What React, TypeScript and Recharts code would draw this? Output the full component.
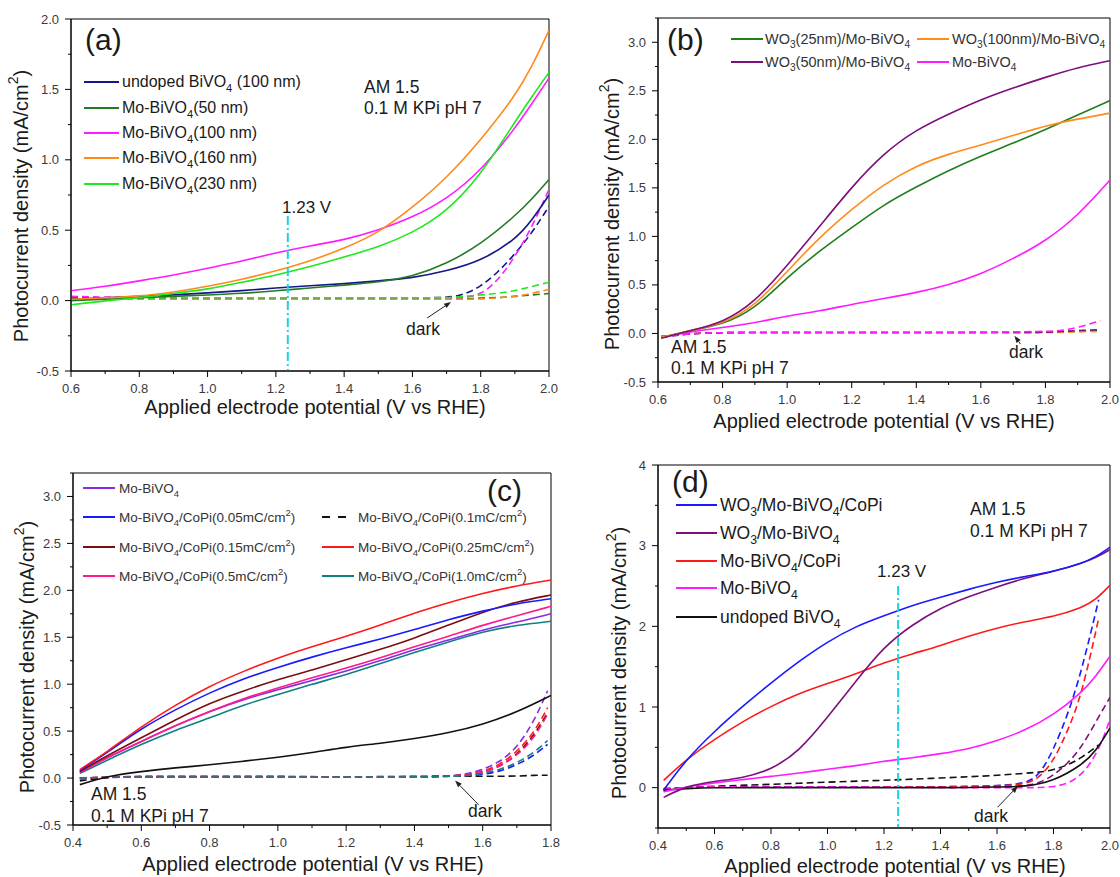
import React from 'react';
import { LineChart, Line, XAxis, YAxis, ReferenceLine, ReferenceArea } from 'recharts';

const FONT = '"Liberation Sans", Arial, Helvetica, sans-serif';
const TXT = '#1a1a1a';
const TICK = '#3a3a3a';
const CYAN = '#19d3e3';

// ---------------- Panel (a) ----------------
const aX = [0.6, 0.7, 0.8, 0.9, 1.0, 1.1, 1.2, 1.3, 1.4, 1.5, 1.6, 1.7, 1.8, 1.9, 1.95, 2.0];
const aUndoped = [0.01, 0.02, 0.03, 0.04, 0.055, 0.07, 0.09, 0.105, 0.12, 0.14, 0.16, 0.21, 0.28, 0.43, 0.57, 0.75];
const aMo50 = [0.0, 0.01, 0.02, 0.03, 0.04, 0.05, 0.07, 0.09, 0.11, 0.13, 0.17, 0.26, 0.4, 0.6, 0.72, 0.86];
const aMo100 = [0.07, 0.1, 0.14, 0.18, 0.23, 0.28, 0.34, 0.39, 0.43, 0.5, 0.59, 0.72, 0.92, 1.22, 1.4, 1.58];
const aMo160 = [0.01, 0.02, 0.03, 0.06, 0.1, 0.15, 0.21, 0.28, 0.37, 0.48, 0.66, 0.87, 1.14, 1.45, 1.66, 1.92];
const aMo230 = [-0.03, 0.0, 0.02, 0.05, 0.08, 0.13, 0.18, 0.24, 0.31, 0.38, 0.48, 0.63, 0.89, 1.27, 1.45, 1.62];
const aDarkX = [0.6, 0.8, 1.0, 1.2, 1.4, 1.6, 1.7, 1.75, 1.8, 1.85, 1.9, 1.95, 2.0];
const aUndopedDark = [0.02, 0.02, 0.02, 0.02, 0.02, 0.02, 0.02, 0.04, 0.1, 0.2, 0.33, 0.48, 0.67];
const aMo50Dark = [0.02, 0.01, 0.01, 0.01, 0.01, 0.01, 0.01, 0.01, 0.02, 0.02, 0.03, 0.04, 0.05];
const aMo100Dark = [0.03, 0.02, 0.02, 0.02, 0.02, 0.02, 0.02, 0.02, 0.04, 0.14, 0.31, 0.52, 0.79];
const aMo160Dark = [0.01, 0.01, 0.01, 0.01, 0.01, 0.01, 0.01, 0.01, 0.01, 0.02, 0.03, 0.05, 0.08];
const aMo230Dark = [0.01, 0.02, 0.02, 0.02, 0.02, 0.02, 0.02, 0.03, 0.04, 0.05, 0.07, 0.1, 0.13];
const aXTicks = [0.6, 0.7, 0.8, 0.9, 1.0, 1.1, 1.2, 1.3, 1.4, 1.5, 1.6, 1.7, 1.8, 1.9, 2.0];
const aYTicks = [-0.5, -0.25, 0, 0.25, 0.5, 0.75, 1.0, 1.25, 1.5, 1.75, 2.0];
const aNames = ['undoped BiVO_4 (100 nm)', 'Mo-BiVO_4(50 nm)', 'Mo-BiVO_4(100 nm)', 'Mo-BiVO_4(160 nm)', 'Mo-BiVO_4(230 nm)'];
const aColors = ['#16168c', '#247a24', '#ff1aff', '#ff8a1a', '#1ee81e'];

// ---------------- Panel (b) ----------------
const bX = [0.61, 0.7, 0.8, 0.9, 1.0, 1.1, 1.2, 1.3, 1.4, 1.5, 1.6, 1.7, 1.8, 1.9, 2.0];
const bW25 = [-0.04, 0.03, 0.09, 0.25, 0.58, 0.85, 1.09, 1.33, 1.51, 1.68, 1.83, 1.96, 2.1, 2.25, 2.4];
const bW100 = [-0.04, 0.03, 0.1, 0.28, 0.64, 0.99, 1.28, 1.54, 1.73, 1.85, 1.94, 2.04, 2.14, 2.21, 2.27];
const bW50 = [-0.05, 0.03, 0.11, 0.32, 0.7, 1.1, 1.51, 1.86, 2.1, 2.26, 2.41, 2.53, 2.64, 2.74, 2.81];
const bMo = [-0.04, 0.02, 0.06, 0.11, 0.18, 0.23, 0.3, 0.36, 0.42, 0.5, 0.61, 0.77, 0.95, 1.21, 1.58];
const bDarkX = [0.61, 0.7, 0.8, 1.0, 1.2, 1.4, 1.6, 1.8, 1.85, 1.9, 1.97];
const bW25Dark = [-0.03, 0.0, 0.01, 0.01, 0.01, 0.01, 0.01, 0.01, 0.02, 0.02, 0.03];
const bW100Dark = [-0.03, 0.0, 0.01, 0.01, 0.01, 0.01, 0.01, 0.01, 0.01, 0.02, 0.02];
const bW50Dark = [-0.04, 0.0, 0.01, 0.01, 0.01, 0.01, 0.01, 0.01, 0.02, 0.03, 0.04];
const bMoDark = [-0.03, 0.0, 0.01, 0.01, 0.01, 0.01, 0.01, 0.02, 0.03, 0.06, 0.13];
const bXTicks = [0.6, 0.7, 0.8, 0.9, 1.0, 1.1, 1.2, 1.3, 1.4, 1.5, 1.6, 1.7, 1.8, 1.9, 2.0];
const bYTicks = [-0.5, -0.25, 0, 0.25, 0.5, 0.75, 1.0, 1.25, 1.5, 1.75, 2.0, 2.25, 2.5, 2.75, 3.0, 3.25];
const bNames = ['WO_3(25nm)/Mo-BiVO_4', 'WO_3(100nm)/Mo-BiVO_4', 'WO_3(50nm)/Mo-BiVO_4', 'Mo-BiVO_4'];
const bColors = ['#1f7f1f', '#ff8c1a', '#7d0f7d', '#ff1aff'];

// ---------------- Panel (c) ----------------
const cX = [0.42, 0.5, 0.6, 0.7, 0.8, 0.9, 1.0, 1.1, 1.2, 1.3, 1.4, 1.5, 1.6, 1.7, 1.8];
const cMo = [0.06, 0.22, 0.39, 0.56, 0.71, 0.84, 0.94, 1.04, 1.14, 1.25, 1.37, 1.47, 1.58, 1.66, 1.75];
const c005 = [0.08, 0.27, 0.53, 0.73, 0.91, 1.06, 1.18, 1.29, 1.39, 1.48, 1.58, 1.69, 1.78, 1.86, 1.91];
const c01 = [-0.07, 0.02, 0.07, 0.11, 0.14, 0.18, 0.22, 0.27, 0.33, 0.37, 0.42, 0.48, 0.57, 0.7, 0.88];
const c015 = [0.07, 0.24, 0.43, 0.62, 0.8, 0.93, 1.05, 1.15, 1.26, 1.37, 1.49, 1.63, 1.77, 1.88, 1.95];
const c025 = [0.09, 0.28, 0.55, 0.78, 0.98, 1.14, 1.28, 1.4, 1.51, 1.63, 1.76, 1.87, 1.97, 2.05, 2.11];
const c05 = [0.06, 0.22, 0.39, 0.56, 0.71, 0.85, 0.96, 1.07, 1.17, 1.28, 1.4, 1.51, 1.63, 1.73, 1.83];
const c10 = [0.05, 0.19, 0.36, 0.51, 0.64, 0.78, 0.89, 1.0, 1.1, 1.22, 1.34, 1.45, 1.56, 1.63, 1.67];
const cDarkX = [0.42, 0.5, 0.6, 0.8, 1.0, 1.2, 1.4, 1.5, 1.55, 1.6, 1.65, 1.7, 1.75, 1.79];
const cMoDark = [0.0, 0.01, 0.01, 0.01, 0.01, 0.01, 0.01, 0.02, 0.04, 0.09, 0.17, 0.32, 0.6, 0.93];
const c005Dark = [-0.01, 0.01, 0.01, 0.01, 0.01, 0.01, 0.01, 0.02, 0.02, 0.04, 0.07, 0.14, 0.24, 0.36];
const c01Dark = [-0.03, 0.01, 0.02, 0.02, 0.02, 0.01, 0.02, 0.02, 0.02, 0.02, 0.02, 0.02, 0.03, 0.03];
const c015Dark = [0.0, 0.01, 0.01, 0.01, 0.01, 0.01, 0.01, 0.02, 0.03, 0.06, 0.12, 0.25, 0.45, 0.7];
const c025Dark = [0.0, 0.01, 0.01, 0.01, 0.01, 0.01, 0.01, 0.02, 0.03, 0.07, 0.14, 0.28, 0.48, 0.75];
const c05Dark = [0.0, 0.01, 0.01, 0.01, 0.01, 0.01, 0.01, 0.02, 0.03, 0.06, 0.12, 0.24, 0.42, 0.68];
const c10Dark = [0.0, 0.01, 0.01, 0.01, 0.01, 0.01, 0.01, 0.02, 0.02, 0.05, 0.09, 0.16, 0.27, 0.4];
const cXTicks = [0.4, 0.5, 0.6, 0.7, 0.8, 0.9, 1.0, 1.1, 1.2, 1.3, 1.4, 1.5, 1.6, 1.7, 1.8];
const cYTicks = bYTicks;
const cNames = ['Mo-BiVO_4', 'Mo-BiVO_4/CoPi(0.05mC/cm^2)', 'Mo-BiVO_4/CoPi(0.1mC/cm^2)', 'Mo-BiVO_4/CoPi(0.15mC/cm^2)', 'Mo-BiVO_4/CoPi(0.25mC/cm^2)', 'Mo-BiVO_4/CoPi(0.5mC/cm^2)', 'Mo-BiVO_4/CoPi(1.0mC/cm^2)'];
const cColors = ['#8a2be2', '#1a1aff', '#111111', '#7b0d0d', '#ff1a1a', '#ff1a8c', '#0f8080'];

// ---------------- Panel (d) ----------------
const dX = [0.42, 0.5, 0.6, 0.7, 0.8, 0.9, 1.0, 1.1, 1.2, 1.3, 1.4, 1.5, 1.6, 1.7, 1.8, 1.9, 1.95, 2.0];
const dWMoCoPi = [-0.03, 0.35, 0.7, 1.01, 1.3, 1.57, 1.81, 2.0, 2.13, 2.26, 2.36, 2.46, 2.55, 2.62, 2.68, 2.78, 2.86, 2.98];
const dWMo = [-0.12, 0.02, 0.08, 0.12, 0.22, 0.45, 0.87, 1.32, 1.75, 2.02, 2.23, 2.37, 2.49, 2.6, 2.68, 2.78, 2.85, 2.95];
const dMoCoPi = [0.09, 0.35, 0.6, 0.82, 1.01, 1.17, 1.29, 1.41, 1.55, 1.66, 1.76, 1.88, 1.98, 2.06, 2.12, 2.23, 2.33, 2.51];
const dMo = [-0.05, 0.01, 0.06, 0.1, 0.14, 0.18, 0.23, 0.27, 0.33, 0.37, 0.42, 0.48, 0.58, 0.71, 0.9, 1.18, 1.38, 1.63];
const dUndoped = [-0.03, -0.01, 0.0, 0.0, 0.0, 0.0, 0.0, 0.0, 0.0, 0.0, 0.0, 0.0, 0.01, 0.01, 0.08, 0.28, 0.45, 0.74];
const dDarkX = [0.42, 0.5, 0.6, 0.8, 1.0, 1.2, 1.4, 1.6, 1.7, 1.75, 1.8, 1.85, 1.9, 1.96, 2.0];
const dWMoCoPiDark = [-0.03, 0.0, 0.01, 0.01, 0.01, 0.01, 0.01, 0.02, 0.05, 0.15, 0.47, 0.9, 1.45, 2.33, null];
const dWMoDark = [-0.04, 0.0, 0.01, 0.01, 0.01, 0.01, 0.01, 0.01, 0.02, 0.06, 0.15, 0.3, 0.5, 0.88, 1.12];
const dMoCoPiDark = [-0.02, 0.0, 0.01, 0.01, 0.01, 0.01, 0.01, 0.02, 0.04, 0.12, 0.33, 0.7, 1.15, 2.1, null];
const dMoDark = [-0.02, 0.0, 0.01, 0.01, 0.01, 0.01, 0.0, 0.0, 0.0, 0.0, 0.01, 0.05, 0.15, 0.45, 0.85];
const dUndopedDark = [-0.01, 0.0, 0.02, 0.04, 0.07, 0.09, 0.12, 0.15, 0.18, 0.19, 0.22, 0.28, 0.37, 0.53, null];
const dXTicks = [0.4, 0.5, 0.6, 0.7, 0.8, 0.9, 1.0, 1.1, 1.2, 1.3, 1.4, 1.5, 1.6, 1.7, 1.8, 1.9, 2.0];
const dYTicks = [-0.5, 0, 0.5, 1, 1.5, 2, 2.5, 3, 3.5, 4];
const dNames = ['WO_3/Mo-BiVO_4/CoPi', 'WO_3/Mo-BiVO_4', 'Mo-BiVO_4/CoPi', 'Mo-BiVO_4', 'undoped BiVO_4'];
const dColors = ['#1a1aff', '#7d0f7d', '#ff1a1a', '#ff1aff', '#111111'];

// ---------------- helpers ----------------
const mk = (xs: number[], ys: (number | null)[]) => xs.map((x, i) => ({ x, y: ys[i] }));

function richSpans(text: string, fs: number) {
  const out: any[] = [];
  const re = /([_^])(.)/g;
  let last = 0;
  let shift = 0;
  let k = 0;
  let m: any;
  while ((m = re.exec(text))) {
    if (m.index > last) {
      out.push(<tspan key={k++} dy={shift ? -shift : undefined}>{text.slice(last, m.index)}</tspan>);
      shift = 0;
    }
    const d = m[1] === '_' ? fs * 0.3 : -fs * 0.42;
    out.push(<tspan key={k++} fontSize={fs * 0.7} dy={d - shift}>{m[2]}</tspan>);
    shift = d;
    last = m.index + 2;
  }
  if (last < text.length) out.push(<tspan key={k++} dy={shift ? -shift : undefined}>{text.slice(last)}</tspan>);
  return out;
}

const majorX = (v: number) => Math.round(v * 10) % 2 === 0;
const majorHalf = (v: number) => Math.round(v * 4) % 2 === 0;
const majorInt = (v: number) => Math.round(v * 2) % 2 === 0;
const fmt1 = (v: number) => v.toFixed(1);
const fmt0 = (v: number) => String(Math.round(v));

const makeXTick = (isMajor: (v: number) => boolean, fmt: (v: number) => string) => (p: any) => {
  const v = p.payload.value;
  const mj = isMajor(v);
  return (
    <g>
      <line x1={p.x} x2={p.x} y1={p.y} y2={p.y + (mj ? 6 : 3)} stroke="#000" strokeWidth={1} />
      {mj && (
        <text x={p.x} y={p.y + 22} textAnchor="middle" fontSize={13} fill={TICK} fontFamily={FONT}>{fmt(v)}</text>
      )}
    </g>
  );
};

const makeYTick = (isMajor: (v: number) => boolean, fmt: (v: number) => string) => (p: any) => {
  const v = p.payload.value;
  const mj = isMajor(v);
  return (
    <g>
      <line x1={p.x} x2={p.x - (mj ? 6 : 3)} y1={p.y} y2={p.y} stroke="#000" strokeWidth={1} />
      {mj && (
        <text x={p.x - 12} y={p.y} dy="0.35em" textAnchor="end" fontSize={13} fill={TICK} fontFamily={FONT}>{fmt(v)}</text>
      )}
    </g>
  );
};

const arrowShape = (p: any) => {
  const { x1, y1, x2, y2 } = p;
  if (![x1, y1, x2, y2].every((n) => typeof n === 'number' && isFinite(n))) return <g />;
  const ang = Math.atan2(y2 - y1, x2 - x1);
  const L = 7;
  const W = 2.6;
  const bx = x2 - L * Math.cos(ang);
  const by = y2 - L * Math.sin(ang);
  const pts = `${x2},${y2} ${bx + W * Math.sin(ang)},${by - W * Math.cos(ang)} ${bx - W * Math.sin(ang)},${by + W * Math.cos(ang)}`;
  return (
    <g>
      <line x1={x1} y1={y1} x2={bx} y2={by} stroke="#222" strokeWidth={1} />
      <polygon points={pts} fill="#222" />
    </g>
  );
};

type Series = { key: string; xs: number[]; ys: (number | null)[]; color: string; dashed?: boolean };

function Panel(props: any) {
  const {
    left, top, width, height, margin, yAxisWidth, xAxisHeight, xDomain, yDomain, xTicks, yTicks,
    yMajor, yFmt, series, cyan, arrow, yTitle, xTitle,
  } = props;
  const yTitleContent = () => (
    <text x={yTitle[0]} y={yTitle[1]} transform={`rotate(-90 ${yTitle[0]} ${yTitle[1]})`} textAnchor="middle"
      dominantBaseline="central" fontSize={20} fill={TXT} fontFamily={FONT}>
      {richSpans('Photocurrent density (mA/cm^2)', 20)}
    </text>
  );
  const xTitleContent = () => (
    <text x={xTitle[0]} y={xTitle[1]} textAnchor="middle" fontSize={20} fill={TXT} fontFamily={FONT}>
      Applied electrode potential (V vs RHE)
    </text>
  );
  return (
    <div style={{ position: 'absolute', left, top, width, height }}>
      <LineChart width={width} height={height} margin={margin}>
        <XAxis type="number" dataKey="x" domain={xDomain} ticks={xTicks} interval={0} allowDataOverflow
          height={xAxisHeight} tickSize={0} tickMargin={0} tickLine={false} axisLine={{ stroke: '#000' }}
          tick={makeXTick(majorX, fmt1)} label={{ content: xTitleContent }} />
        <YAxis type="number" domain={yDomain} ticks={yTicks} interval={0} allowDataOverflow width={yAxisWidth}
          tickSize={0} tickMargin={0} tickLine={false} axisLine={{ stroke: '#000' }}
          tick={makeYTick(yMajor, yFmt)} label={{ content: yTitleContent }} />
        <ReferenceArea x1={xDomain[0]} x2={xDomain[1]} y1={yDomain[0]} y2={yDomain[1]} fill="none" fillOpacity={0}
          stroke="#000" strokeWidth={1} ifOverflow="visible" />
        {series.map((s: Series) => (
          <Line key={s.key} name={s.key} data={mk(s.xs, s.ys)} dataKey="y" type="basis" stroke={s.color}
            strokeWidth={1.6} dot={false} activeDot={false} isAnimationActive={false}
            strokeDasharray={s.dashed ? '7 4' : undefined} />
        ))}
        {cyan && (
          <ReferenceLine segment={[{ x: cyan[0], y: cyan[1] }, { x: cyan[0], y: cyan[2] }]} stroke={CYAN}
            strokeWidth={2} strokeDasharray="9 3 2 3" ifOverflow="visible" />
        )}
        {arrow && (
          <ReferenceLine segment={[{ x: arrow[0], y: arrow[1] }, { x: arrow[2], y: arrow[3] }]} stroke="#222"
            ifOverflow="visible" shape={arrowShape} />
        )}
      </LineChart>
    </div>
  );
}

const T = (p: any) => (
  <text x={p.x} y={p.y} fontSize={p.fs} fill={p.fill || TXT} fontFamily={FONT} letterSpacing={p.ls}>
    {richSpans(p.t, p.fs)}
  </text>
);

const LegendRow = (p: any) => (
  <g>
    <line x1={p.x1} x2={p.x2} y1={p.y} y2={p.y} stroke={p.color} strokeWidth={2}
      strokeDasharray={p.dashed ? '8 8' : undefined} />
    <T x={p.tx} y={p.y + p.base} fs={p.fs} t={p.t} fill={p.fill} ls={p.ls} />
  </g>
);

export default function App() {
  const aSeries: Series[] = [
    { key: 'a-ud-d', xs: aDarkX, ys: aUndopedDark, color: aColors[0], dashed: true },
    { key: 'a-50-d', xs: aDarkX, ys: aMo50Dark, color: aColors[1], dashed: true },
    { key: 'a-100-d', xs: aDarkX, ys: aMo100Dark, color: aColors[2], dashed: true },
    { key: 'a-160-d', xs: aDarkX, ys: aMo160Dark, color: aColors[3], dashed: true },
    { key: 'a-230-d', xs: aDarkX, ys: aMo230Dark, color: aColors[4], dashed: true },
    { key: 'a-ud', xs: aX, ys: aUndoped, color: aColors[0] },
    { key: 'a-50', xs: aX, ys: aMo50, color: aColors[1] },
    { key: 'a-100', xs: aX, ys: aMo100, color: aColors[2] },
    { key: 'a-160', xs: aX, ys: aMo160, color: aColors[3] },
    { key: 'a-230', xs: aX, ys: aMo230, color: aColors[4] },
  ];
  const bSeries: Series[] = [
    { key: 'b-25-d', xs: bDarkX, ys: bW25Dark, color: bColors[0], dashed: true },
    { key: 'b-100-d', xs: bDarkX, ys: bW100Dark, color: bColors[1], dashed: true },
    { key: 'b-50-d', xs: bDarkX, ys: bW50Dark, color: bColors[2], dashed: true },
    { key: 'b-mo-d', xs: bDarkX, ys: bMoDark, color: bColors[3], dashed: true },
    { key: 'b-mo', xs: bX, ys: bMo, color: bColors[3] },
    { key: 'b-25', xs: bX, ys: bW25, color: bColors[0] },
    { key: 'b-100', xs: bX, ys: bW100, color: bColors[1] },
    { key: 'b-50', xs: bX, ys: bW50, color: bColors[2] },
  ];
  const cSeries: Series[] = [
    { key: 'c-mo-d', xs: cDarkX, ys: cMoDark, color: cColors[0], dashed: true },
    { key: 'c-005-d', xs: cDarkX, ys: c005Dark, color: cColors[1], dashed: true },
    { key: 'c-01-d', xs: cDarkX, ys: c01Dark, color: cColors[2], dashed: true },
    { key: 'c-015-d', xs: cDarkX, ys: c015Dark, color: cColors[3], dashed: true },
    { key: 'c-025-d', xs: cDarkX, ys: c025Dark, color: cColors[4], dashed: true },
    { key: 'c-05-d', xs: cDarkX, ys: c05Dark, color: cColors[5], dashed: true },
    { key: 'c-10-d', xs: cDarkX, ys: c10Dark, color: cColors[6], dashed: true },
    { key: 'c-01', xs: cX, ys: c01, color: cColors[2] },
    { key: 'c-10', xs: cX, ys: c10, color: cColors[6] },
    { key: 'c-mo', xs: cX, ys: cMo, color: cColors[0] },
    { key: 'c-05', xs: cX, ys: c05, color: cColors[5] },
    { key: 'c-015', xs: cX, ys: c015, color: cColors[3] },
    { key: 'c-005', xs: cX, ys: c005, color: cColors[1] },
    { key: 'c-025', xs: cX, ys: c025, color: cColors[4] },
  ];
  const dSeries: Series[] = [
    { key: 'd-ud-d', xs: dDarkX, ys: dUndopedDark, color: dColors[4], dashed: true },
    { key: 'd-wmc-d', xs: dDarkX, ys: dWMoCoPiDark, color: dColors[0], dashed: true },
    { key: 'd-wm-d', xs: dDarkX, ys: dWMoDark, color: dColors[1], dashed: true },
    { key: 'd-mc-d', xs: dDarkX, ys: dMoCoPiDark, color: dColors[2], dashed: true },
    { key: 'd-mo-d', xs: dDarkX, ys: dMoDark, color: dColors[3], dashed: true },
    { key: 'd-ud', xs: dX, ys: dUndoped, color: dColors[4] },
    { key: 'd-mo', xs: dX, ys: dMo, color: dColors[3] },
    { key: 'd-mc', xs: dX, ys: dMoCoPi, color: dColors[2] },
    { key: 'd-wm', xs: dX, ys: dWMo, color: dColors[1] },
    { key: 'd-wmc', xs: dX, ys: dWMoCoPi, color: dColors[0] },
  ];

  const aRows = [82, 108, 133, 158, 184];
  const dRows = [505, 533, 561, 588, 617];
  const cRowY = [488, 517, 547, 576];

  return (
    <div style={{ position: 'absolute', left: 0, top: 0, width: 1120, height: 877, background: '#fff', fontFamily: FONT }}>
      <Panel left={0} top={0} width={560} height={440} margin={{ top: 19, right: 11, left: 0, bottom: 0 }}
        yAxisWidth={71} xAxisHeight={69} xDomain={[0.6, 2.0]} yDomain={[-0.5, 2.0]} xTicks={aXTicks} yTicks={aYTicks}
        yMajor={majorHalf} yFmt={fmt1} series={aSeries} cyan={[1.235, 0.6, -0.5]} arrow={[1.643, -0.124, 1.713, -0.01]}
        yTitle={[21, 206]} xTitle={[315, 414]} />
      <Panel left={560} top={0} width={560} height={440} margin={{ top: 18, right: 10, left: 0, bottom: 0 }}
        yAxisWidth={98} xAxisHeight={58} xDomain={[0.6, 2.0]} yDomain={[-0.5, 3.25]} xTicks={bXTicks} yTicks={bYTicks}
        yMajor={majorHalf} yFmt={fmt1} series={bSeries} arrow={[1.723, -0.11, 1.704, -0.024]}
        yTitle={[52, 214]} xTitle={[324, 428]} />
      <Panel left={0} top={440} width={560} height={437} margin={{ top: 33, right: 9, left: 0, bottom: 0 }}
        yAxisWidth={73} xAxisHeight={52} xDomain={[0.4, 1.8]} yDomain={[-0.5, 3.25]} xTicks={cXTicks} yTicks={cYTicks}
        yMajor={majorHalf} yFmt={fmt1} series={cSeries} arrow={[1.588, -0.285, 1.519, -0.026]}
        yTitle={[27, 217]} xTitle={[313, 431]} />
      <Panel left={560} top={440} width={560} height={437} margin={{ top: 25, right: 10, left: 0, bottom: 0 }}
        yAxisWidth={98} xAxisHeight={49} xDomain={[0.4, 2.0]} yDomain={[-0.5, 4]} xTicks={dXTicks} yTicks={dYTicks}
        yMajor={majorInt} yFmt={fmt0} series={dSeries} cyan={[1.25, 2.5, -0.5]} arrow={[1.602, -0.243, 1.674, 0.02]}
        yTitle={[59, 223]} xTitle={[335, 433]} />

      <svg width={1120} height={877} style={{ position: 'absolute', left: 0, top: 0, pointerEvents: 'none' }}>
        {/* panel (a) */}
        <T x={85} y={50} fs={30} t="(a)" />
        <T x={364} y={93} fs={17.5} t="AM 1.5" />
        <T x={364} y={114} fs={17.5} t="0.1 M KPi pH 7" />
        <T x={282} y={213} fs={17} t="1.23 V" />
        <T x={406} y={335} fs={17.5} t="dark" />
        {aNames.map((n, i) => (
          <LegendRow key={n} x1={84} x2={119} y={aRows[i]} tx={122} base={5} fs={16} t={n} color={aColors[i]} />
        ))}
        {/* panel (b) */}
        <T x={667} y={50} fs={30} t="(b)" />
        <T x={671} y={353} fs={17.5} t="AM 1.5" />
        <T x={671} y={374} fs={17.5} t="0.1 M KPi pH 7" />
        <T x={1009} y={358} fs={17.5} t="dark" />
        <LegendRow x1={731} x2={763} y={39} tx={765} base={5} fs={14.5} t={bNames[0]} color={bColors[0]} fill="#333" />
        <LegendRow x1={917} x2={949} y={39} tx={952} base={5} fs={14.5} t={bNames[1]} color={bColors[1]} fill="#333" />
        <LegendRow x1={731} x2={763} y={62} tx={765} base={5} fs={14.5} t={bNames[2]} color={bColors[2]} fill="#333" />
        <LegendRow x1={917} x2={949} y={62} tx={952} base={5} fs={14.5} t={bNames[3]} color={bColors[3]} fill="#333" />
        {/* panel (c) */}
        <T x={487} y={501} fs={30} t="(c)" />
        <T x={91} y={800} fs={17.5} t="AM 1.5" />
        <T x={91} y={822} fs={17.5} t="0.1 M KPi pH 7" />
        <T x={468} y={817} fs={17.5} t="dark" />
        <LegendRow x1={83} x2={115} y={cRowY[0]} tx={119} base={5} fs={13.5} t={cNames[0]} color={cColors[0]} fill="#333" />
        <LegendRow x1={83} x2={115} y={cRowY[1]} tx={119} base={5} fs={13.5} t={cNames[1]} color={cColors[1]} fill="#333" />
        <LegendRow x1={322} x2={354} y={cRowY[1]} tx={358} base={5} fs={13.5} t={cNames[2]} color={cColors[2]} fill="#333" dashed />
        <LegendRow x1={83} x2={115} y={cRowY[2]} tx={119} base={5} fs={13.5} t={cNames[3]} color={cColors[3]} fill="#333" />
        <LegendRow x1={322} x2={354} y={cRowY[2]} tx={358} base={5} fs={13.5} t={cNames[4]} color={cColors[4]} fill="#333" />
        <LegendRow x1={83} x2={115} y={cRowY[3]} tx={119} base={5} fs={13.5} t={cNames[5]} color={cColors[5]} fill="#333" />
        <LegendRow x1={322} x2={354} y={cRowY[3]} tx={358} base={5} fs={13.5} t={cNames[6]} color={cColors[6]} fill="#333" />
        {/* panel (d) */}
        <T x={672} y={492} fs={30} t="(d)" />
        <T x={970} y={515} fs={17.5} t="AM 1.5" />
        <T x={970} y={537} fs={17.5} t="0.1 M KPi pH 7" />
        <T x={877} y={577} fs={17} t="1.23 V" />
        <T x={974} y={822} fs={17.5} t="dark" />
        {dNames.map((n, i) => (
          <LegendRow key={n} x1={676} x2={717} y={dRows[i]} tx={720} base={6} fs={17.5} t={n} color={dColors[i]} />
        ))}
      </svg>
    </div>
  );
}
